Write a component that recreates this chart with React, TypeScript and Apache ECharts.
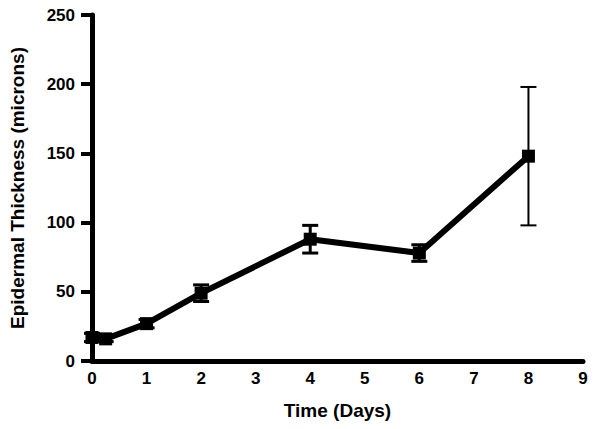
import React, { useEffect, useRef } from "react";
import * as echarts from "echarts";

const days = [0, 0.25, 1, 2, 4, 6, 8];
const thickness = [17, 16, 27, 49, 88, 78, 148];
const sem = [3, 2, 3, 6, 10, 6, 50];
const yTicks = [0, 50, 100, 150, 200, 250];
const xTicks = [0, 1, 2, 3, 4, 5, 6, 7, 8, 9];

const FONT = "'Liberation Sans', Arial, sans-serif";

export default function App() {
  const ref = useRef<HTMLDivElement>(null);
  useEffect(() => {
    if (!ref.current) return;
    const chart = echarts.init(ref.current, undefined, { renderer: "svg" });
    const lineData = days.map((d, i) => [d, thickness[i]]);
    const errData = days.map((d, i) => [d, thickness[i] - sem[i], thickness[i] + sem[i]]);
    chart.setOption({
      animation: false,
      backgroundColor: "#ffffff",
      grid: { left: 88, right: 17, top: 15, bottom: 68 },
      xAxis: {
        type: "value",
        min: xTicks[0],
        max: xTicks[xTicks.length - 1],
        interval: 1,
        name: "Time (Days)",
        nameLocation: "middle",
        nameGap: 40,
        nameTextStyle: { fontFamily: FONT, fontWeight: "bold", fontSize: 19, color: "#000" },
        axisLine: { lineStyle: { color: "#000", width: 5 } },
        axisTick: { show: false },
        axisLabel: { fontFamily: FONT, fontWeight: "bold", fontSize: 17, color: "#000", margin: 9 },
        splitLine: { show: false },
      },
      yAxis: {
        type: "value",
        min: yTicks[0],
        max: yTicks[yTicks.length - 1],
        interval: 50,
        name: "Epidermal Thickness (microns)",
        nameLocation: "middle",
        nameGap: 65,
        nameTextStyle: { fontFamily: FONT, fontWeight: "bold", fontSize: 19, color: "#000" },
        axisLine: { lineStyle: { color: "#000", width: 5 } },
        axisTick: { show: true, inside: false, length: 11, lineStyle: { color: "#000", width: 4 } },
        axisLabel: { fontFamily: FONT, fontWeight: "bold", fontSize: 17, color: "#000", margin: 17 },
        splitLine: { show: false },
      },
      series: [
        {
          type: "line",
          data: lineData,
          symbol: "rect",
          symbolSize: 13,
          itemStyle: { color: "#000" },
          lineStyle: { color: "#000", width: 6 },
          z: 2,
        },
        {
          type: "custom",
          data: errData,
          z: 3,
          renderItem: (params: any, api: any) => {
            const x = api.value(0);
            const lo = api.coord([x, api.value(1)]);
            const hi = api.coord([x, api.value(2)]);
            const hw = 8;
            const style = { stroke: "#000", lineWidth: params.dataIndex === days.length - 1 ? 2 : 3 };
            return {
              type: "group",
              children: [
                { type: "line", shape: { x1: lo[0], y1: lo[1], x2: hi[0], y2: hi[1] }, style },
                { type: "line", shape: { x1: lo[0] - hw, y1: lo[1], x2: lo[0] + hw, y2: lo[1] }, style },
                { type: "line", shape: { x1: hi[0] - hw, y1: hi[1], x2: hi[0] + hw, y2: hi[1] }, style },
              ],
            };
          },
        },
      ],
    });
    return () => chart.dispose();
  }, []);
  return <div ref={ref} style={{ width: 600, height: 429, margin: -8 }} />;
}
